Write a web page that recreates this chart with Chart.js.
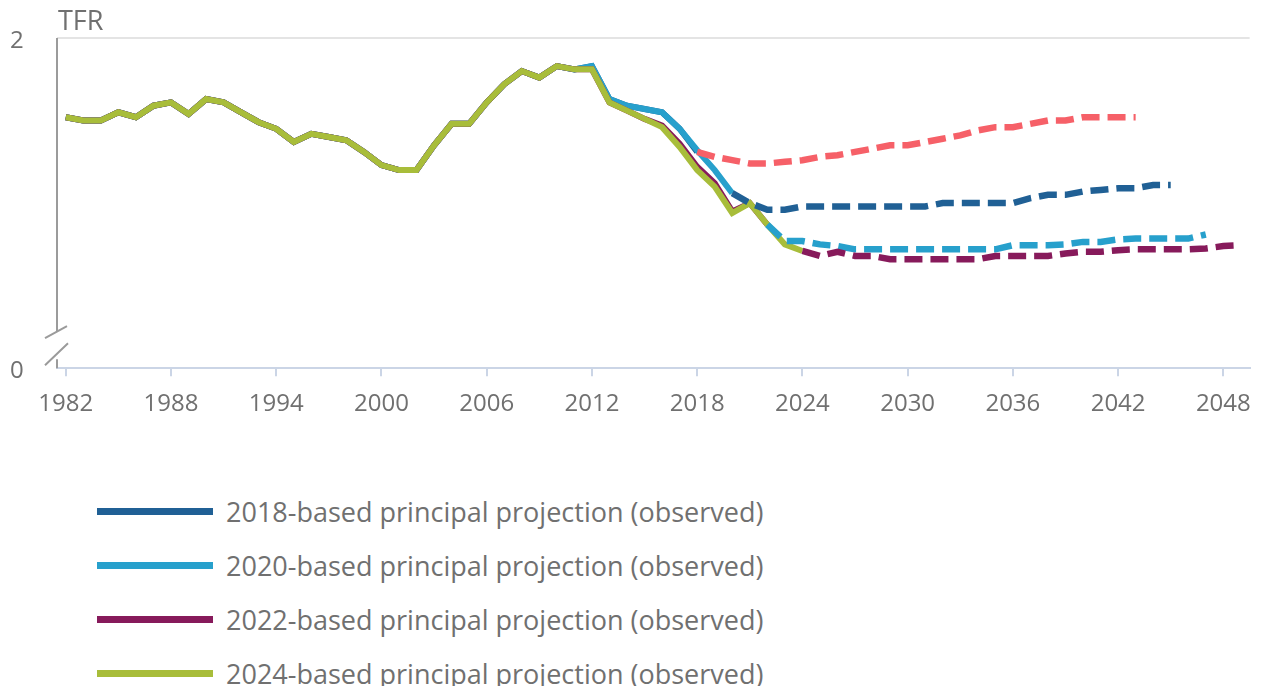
<!DOCTYPE html>
<html>
<head>
<meta charset="utf-8">
<title>TFR projections</title>
<script src="https://cdn.jsdelivr.net/npm/chart.js@4.4.1/dist/chart.umd.min.js"></script>
<style>
    html, body { margin: 0; padding: 0; background: #fff; overflow: hidden; }
    body { width: 1265px; height: 686px; position: relative; font-family: 'Open Sans', sans-serif; }
    #chartBox { position: absolute; left: 0; top: 0; width: 1265px; height: 442px; }
    #legend { position: absolute; left: 97px; top: 484px; }
    .legend-row { display: flex; align-items: center; height: 54px; }
    .legend-swatch { width: 116px; height: 7px; margin-right: 13px; }
    .legend-text { font-size: 27px; color: #707070; white-space: nowrap; }
</style>
</head>
<body>
<div id="chartBox"><canvas id="tfrChart"></canvas></div>
<div id="legend"></div>

<script>
// Years on the x axis
const years = [1982, 1983, 1984, 1985, 1986, 1987, 1988, 1989, 1990, 1991,
               1992, 1993, 1994, 1995, 1996, 1997, 1998, 1999, 2000, 2001,
               2002, 2003, 2004, 2005, 2006, 2007, 2008, 2009, 2010, 2011,
               2012, 2013, 2014, 2015, 2016, 2017, 2018, 2019, 2020, 2021,
               2022, 2023, 2024, 2025, 2026, 2027, 2028, 2029, 2030, 2031,
               2032, 2033, 2034, 2035, 2036, 2037, 2038, 2039, 2040, 2041,
               2042, 2043, 2044, 2045, 2046, 2047, 2048, 2049];

const yTicks = [0, 2];

// Observed TFR shared by all releases, 1982-2011
const observedTo2011 = [1.52, 1.50, 1.50, 1.55, 1.52, 1.59, 1.61, 1.54, 1.63, 1.61,
                        1.55, 1.49, 1.45, 1.37, 1.42, 1.40, 1.38, 1.31, 1.23, 1.20,
                        1.20, 1.35, 1.48, 1.48, 1.61, 1.72, 1.80, 1.76, 1.83, 1.81];

// Observed tails from 2012 for each release
const obs2018Tail = [1.83, 1.63, 1.59, 1.57, 1.55, 1.45, 1.31];
const obs2020Tail = [1.83, 1.63, 1.59, 1.57, 1.55, 1.45, 1.32, 1.20, 1.06];
const obs2022Tail = [1.81, 1.61, 1.56, 1.51, 1.47, 1.36, 1.22, 1.12, 0.95, 1.00, 0.87];
const obs2024Tail = [1.81, 1.61, 1.56, 1.51, 1.46, 1.34, 1.20, 1.10, 0.94, 1.00, 0.87, 0.75, 0.71];

// Projections, each starting at its base year
const proj2018 = [1.31, 1.28, 1.26, 1.24, 1.24, 1.25, 1.26, 1.28, 1.29, 1.31,
                  1.33, 1.35, 1.35, 1.37, 1.39, 1.41, 1.44, 1.46, 1.46, 1.48,
                  1.50, 1.50, 1.52, 1.52, 1.52, 1.52];
const proj2020 = [1.06, 1.00, 0.96, 0.96, 0.98, 0.98, 0.98, 0.98, 0.98, 0.98,
                  0.98, 0.98, 1.00, 1.00, 1.00, 1.00, 1.00, 1.03, 1.05, 1.05,
                  1.07, 1.08, 1.09, 1.09, 1.11, 1.11];
const proj2022 = [0.87, 0.77, 0.77, 0.75, 0.74, 0.72, 0.72, 0.72, 0.72, 0.72,
                  0.72, 0.72, 0.72, 0.72, 0.745, 0.745, 0.745, 0.75, 0.765, 0.765,
                  0.78, 0.785, 0.785, 0.785, 0.785, 0.81];
const proj2024 = [0.71, 0.68, 0.705, 0.68, 0.68, 0.66, 0.66, 0.66, 0.66, 0.66,
                  0.66, 0.68, 0.68, 0.68, 0.68, 0.695, 0.705, 0.705, 0.715, 0.72,
                  0.72, 0.72, 0.72, 0.725, 0.74, 0.745];

const colors = {
    darkBlue: '#206095',
    lightBlue: '#27a0cc',
    purple: '#871a5b',
    green: '#a8bd3a',
    red: '#f66068'
};

// put values on the full year axis, nulls elsewhere
function placeFrom(startYear, values) {
    const out = years.map(function() { return null; });
    const offset = years.indexOf(startYear);
    values.forEach(function(v, i) { out[offset + i] = v; });
    return out;
}

function observedLine(label, tail, color) {
    return {
        label: label,
        data: placeFrom(1982, observedTo2011.concat(tail)),
        borderColor: color,
        backgroundColor: color,
        borderWidth: 6,
        pointRadius: 0,
        fill: false,
        isObserved: true
    };
}

function projectionLine(label, startYear, values, color) {
    return {
        label: label,
        data: placeFrom(startYear, values),
        borderColor: color,
        backgroundColor: color,
        borderWidth: 6.5,
        borderDash: [18, 8],
        pointRadius: 0,
        fill: false,
        isObserved: false
    };
}

// Axis break and the TFR label on the left
const axisBreakPlugin = {
    id: 'axisBreak',
    afterDraw: function(chart) {
        const ctx = chart.ctx;
        const area = chart.chartArea;
        const x = area.left;
        const b = area.bottom;
        ctx.save();
        ctx.strokeStyle = '#9b9b9b';
        ctx.lineWidth = 2;
        ctx.beginPath();
        ctx.moveTo(x, area.top);
        ctx.lineTo(x, b - 36);
        ctx.moveTo(x, b - 9);
        ctx.lineTo(x, b);
        ctx.moveTo(x - 12, b - 30);
        ctx.lineTo(x + 10, b - 42);
        ctx.moveTo(x - 12, b - 3);
        ctx.lineTo(x + 11, b - 25);
        ctx.stroke();

        ctx.fillStyle = '#707070';
        ctx.font = "27px 'Open Sans', sans-serif";
        ctx.textAlign = 'left';
        ctx.textBaseline = 'middle';
        ctx.fillText('TFR', x + 1, 22);
        ctx.restore();
    }
};

document.addEventListener('DOMContentLoaded', function() {
    Chart.defaults.font.family = "'Open Sans', sans-serif";
    Chart.defaults.color = '#707070';

    const datasets = [
        projectionLine('2024-based principal projection', 2024, proj2024, colors.purple),
        projectionLine('2022-based principal projection', 2022, proj2022, colors.lightBlue),
        projectionLine('2020-based principal projection', 2020, proj2020, colors.darkBlue),
        projectionLine('2018-based principal projection', 2018, proj2018, colors.red),
        observedLine('2024-based principal projection (observed)', obs2024Tail, colors.green),
        observedLine('2022-based principal projection (observed)', obs2022Tail, colors.purple),
        observedLine('2020-based principal projection (observed)', obs2020Tail, colors.lightBlue),
        observedLine('2018-based principal projection (observed)', obs2018Tail, colors.darkBlue)
    ];

    const chart = new Chart(document.getElementById('tfrChart'), {
        type: 'line',
        data: { labels: years, datasets: datasets },
        plugins: [axisBreakPlugin],
        options: {
            responsive: true,
            maintainAspectRatio: false,
            animation: false,
            layout: { padding: { left: 10, right: 10, top: 38, bottom: 9 } },
            elements: { line: { tension: 0, borderCapStyle: 'butt' } },
            plugins: {
                legend: { display: false },
                tooltip: { enabled: false }
            },
            scales: {
                x: {
                    type: 'category',
                    offset: true,
                    afterBuildTicks: function(axis) {
                        axis.ticks = axis.ticks.filter(function(t) { return t.value % 6 === 0; });
                    },
                    grid: {
                        offset: false,
                        drawOnChartArea: false,
                        drawTicks: true,
                        tickLength: 8,
                        color: '#cbd5e6',
                        lineWidth: 2
                    },
                    border: { display: true, color: '#cbd5e6', width: 2 },
                    ticks: {
                        autoSkip: false,
                        maxRotation: 0,
                        padding: 14,
                        font: { size: 24 },
                        color: '#707070'
                    }
                },
                y: {
                    min: yTicks[0],
                    max: yTicks[yTicks.length - 1],
                    afterBuildTicks: function(axis) {
                        axis.ticks = yTicks.map(function(v) { return { value: v }; });
                    },
                    afterFit: function(axis) {
                        axis.width = 47;
                    },
                    grid: {
                        drawTicks: false,
                        lineWidth: 2,
                        color: function(c) {
                            return c.tick && c.tick.value === 2 ? '#e4e4e4' : 'rgba(0,0,0,0)';
                        }
                    },
                    border: { display: false },
                    ticks: {
                        padding: 2,
                        crossAlign: 'far',
                        labelOffset: 3,
                        font: { size: 24 },
                        color: '#707070'
                    }
                }
            }
        }
    });

    // HTML legend for the observed series
    const legend = document.getElementById('legend');
    chart.data.datasets.filter(function(d) { return d.isObserved; }).reverse().forEach(function(d) {
        const row = document.createElement('div');
        row.className = 'legend-row';
        const sw = document.createElement('span');
        sw.className = 'legend-swatch';
        sw.style.background = d.borderColor;
        const txt = document.createElement('span');
        txt.className = 'legend-text';
        txt.textContent = d.label;
        row.appendChild(sw);
        row.appendChild(txt);
        legend.appendChild(row);
    });
});
</script>
</body>
</html>
